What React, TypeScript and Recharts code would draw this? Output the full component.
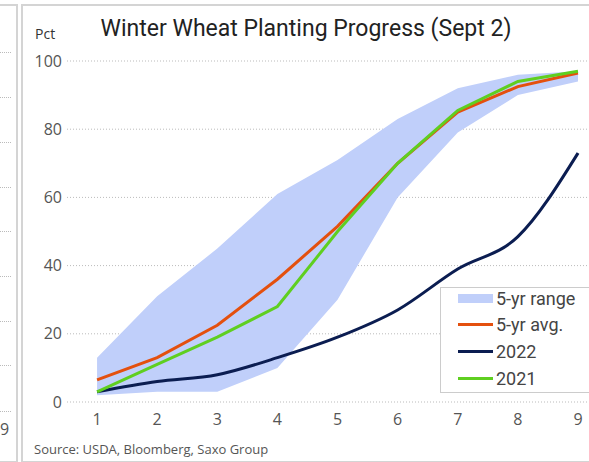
import React from 'react';
import { ComposedChart, Area, Line, CartesianGrid, XAxis, YAxis } from 'recharts';

const weeks = [1, 2, 3, 4, 5, 6, 7, 8, 9];
const rangeLow = [2, 3, 3, 10, 30, 60, 79, 90, 94];
const rangeHigh = [13, 31, 45, 61, 71, 83, 92, 96, 97];
const avg5yr = [6.5, 13, 22.5, 36, 51.5, 70, 85, 92.5, 96.5];
const y2022 = [3, 6, 8, 13, 19, 27, 39, 48.5, 73];
const y2021 = [3, 11, 19, 28, 50, 70, 85.5, 94, 97];
const yTicks = [0, 20, 40, 60, 80, 100];

const data = weeks.map((w, i) => ({
    week: w,
    range: [rangeLow[i], rangeHigh[i]],
    avg: avg5yr[i],
    y2022: y2022[i],
    y2021: y2021[i],
}));

const RANGE = '#c0cffa';
const AVG = '#e4500e';
const NAVY = '#0b1d51';
const GREEN = '#5fcf20';

const legendItems = [
    { label: '5-yr range', color: RANGE, box: true },
    { label: '5-yr avg.', color: AVG, box: false },
    { label: '2022', color: NAVY, box: false },
    { label: '2021', color: GREEN, box: false },
];

const leftGrid = [52, 97, 142, 187, 231, 276, 321, 365, 411];

const App = (): JSX.Element => {
    return (
        <div style={{ position: 'absolute', left: 0, top: 0, width: 589, height: 462, overflow: 'hidden', background: '#fff', fontFamily: 'Open Sans' }}>
            {/* neighbouring panel strip */}
            <div style={{ position: 'absolute', left: -10, top: 4, width: 26, height: 455, borderRight: '2px solid #d4d4d4', borderTop: '2px solid #d4d4d4', borderBottom: '2px solid #d4d4d4' }} />
            {leftGrid.map((y) => (
                <div key={y} style={{ position: 'absolute', left: 0, top: y, width: 11, borderTop: '1px dotted #bbb' }} />
            ))}
            <div style={{ position: 'absolute', left: 0, top: 418, fontSize: 16, color: '#555' }}>9</div>
            {/* main panel border */}
            <div style={{ position: 'absolute', left: 21, top: 4, width: 600, height: 455, border: '2px solid #d4d4d4' }} />

            <div style={{ position: 'absolute', left: 0, top: 0 }}>
                <ComposedChart width={589} height={462} data={data} margin={{ top: 61, right: 0, bottom: 30, left: 0 }}>
                    <CartesianGrid vertical={false} stroke="#bbb" strokeDasharray="1 2" />
                    <XAxis dataKey="week" type="number" domain={[0.5, 9.183]} ticks={weeks} allowDataOverflow
                        axisLine={false} tickLine={false} tickSize={0} tickMargin={12} height={30}
                        tick={{ fill: '#555', fontSize: 16, fontFamily: 'Open Sans' }} />
                    <YAxis type="number" domain={[0, 100]} ticks={yTicks} width={67}
                        axisLine={false} tickLine={false} tickSize={0} tickMargin={5}
                        tick={{ fill: '#555', fontSize: 16, fontFamily: 'Open Sans' }} />
                    <Area dataKey="range" type="linear" fill={RANGE} fillOpacity={1} stroke="none" isAnimationActive={false} />
                    <Line dataKey="y2022" type="monotone" stroke={NAVY} strokeWidth={3} dot={false} isAnimationActive={false} />
                    <Line dataKey="avg" type="linear" stroke={AVG} strokeWidth={3} dot={false} isAnimationActive={false} />
                    <Line dataKey="y2021" type="linear" stroke={GREEN} strokeWidth={3} dot={false} isAnimationActive={false} />
                </ComposedChart>
            </div>

            <div style={{ position: 'absolute', left: 0, width: 612, top: 15, textAlign: 'center', fontSize: 23, color: '#222', fontFamily: 'Roboto' }}>
                Winter Wheat Planting Progress (Sept 2)
            </div>
            <div style={{ position: 'absolute', left: 35, top: 24, fontSize: 14, color: '#333' }}>Pct</div>

            <div style={{ position: 'absolute', left: 440, top: 287, width: 170, height: 104, border: '1px solid #ccc', background: '#fff' }}>
                {legendItems.map((it, i) => (
                    <div key={it.label} style={{ position: 'absolute', left: 17, top: -1 + i * 26.7, height: 22, display: 'flex', alignItems: 'center' }}>
                        <div style={{ width: 35, height: it.box ? 9 : 3, background: it.color }} />
                        <span style={{ marginLeft: 3, fontSize: 18, color: '#444', fontFamily: 'Roboto' }}>{it.label}</span>
                    </div>
                ))}
            </div>

            <div style={{ position: 'absolute', left: 34, top: 440, fontSize: 13, color: '#555' }}>
                Source: USDA, Bloomberg, Saxo Group
            </div>
        </div>
    );
};

export default App;
